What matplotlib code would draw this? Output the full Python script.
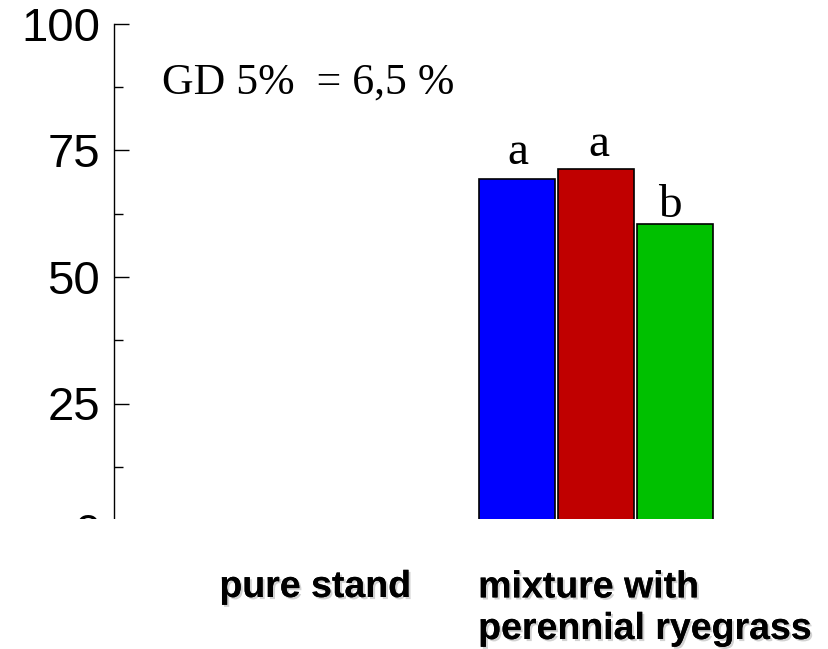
import numpy as np
import matplotlib
matplotlib.use("Agg")
import matplotlib.pyplot as plt
from matplotlib.patches import Rectangle
from matplotlib.transforms import blended_transform_factory
import matplotlib.patheffects as pe

# ---- data ----
categories = ["pure stand", "mixture with\nperennial ryegrass"]
series_blue = [np.nan, 69.3]
series_red = [np.nan, 71.3]
series_green = [np.nan, 60.5]
letters_blue = ["", "a"]
letters_red = ["", "a"]
letters_green = ["", "b"]
y_ticks = [0, 25, 50, 75, 100]
y_minor = [12.5, 37.5, 62.5, 87.5]
note = "GD 5%  = 6,5 %"

W, H = 829, 649
fig = plt.figure(figsize=(W / 100, H / 100), dpi=100)

def px(x0, y0, x1, y1):
    return [x0 / W, 1 - y1 / H, (x1 - x0) / W, (y1 - y0) / H]

ax = fig.add_axes(px(114, 24, 800, 530))
ax.set_xlim(-0.555, 1.658)
ax.set_ylim(0, 100)

x = np.arange(len(categories))
step = 0.2535
width = 0.245
colors = ["#0000ff", "#c00000", "#00c000"]
series = [series_blue, series_red, series_green]
letters = [letters_blue, letters_red, letters_green]
letter_off = [3.1, 2.7, 1.3]
letter_dx = [0.0, 0.01, -0.015]
for i, (vals, col, lets) in enumerate(zip(series, colors, letters)):
    xi = x + (i - 1) * step
    ax.bar(xi, vals, width=width, color=col, edgecolor="black", linewidth=1.2, zorder=2)
    for xx, v, t in zip(xi, vals, lets):
        if t and not np.isnan(v):
            ax.text(xx + letter_dx[i], v + letter_off[i], t, ha="center", va="baseline",
                    fontsize=34, family="Liberation Serif")

ax.text(162 / W, 86.2, note,
        transform=blended_transform_factory(fig.transFigure, ax.transData),
        fontsize=31.5, family="Liberation Serif", va="baseline", ha="left")

for s in ["top", "right", "bottom"]:
    ax.spines[s].set_visible(False)
ax.spines["left"].set_linewidth(1.0)
ax.set_xticks([])
ax.set_yticks(y_ticks)
ax.set_yticks(y_minor, minor=True)
ax.tick_params(axis="y", which="major", direction="in", length=10.8, width=1.0,
               labelsize=34, pad=10)
ax.tick_params(axis="y", which="minor", direction="in", length=6.5, width=1.0)
for lab in ax.get_yticklabels():
    lab.set_family("Liberation Sans")

# white band hiding the base of the chart
fig.add_artist(Rectangle((0, 0), 1, 1 - 519 / H, transform=fig.transFigure,
                         facecolor="white", edgecolor="none", zorder=5))

tr = blended_transform_factory(ax.transData, fig.transFigure)
shadow = [pe.withSimplePatchShadow(offset=(1.5, -1.5), shadow_rgbFace="gray", alpha=0.35),
          pe.Normal()]
fig.text(x[0] + 0.094, 1 - 597 / H, categories[0], transform=tr, ha="center", va="baseline",
         fontsize=27, fontweight="bold", family="Liberation Sans", zorder=6,
         path_effects=shadow)
fig.text(x[1] - 1.5 * step, 1 - 639 / H, categories[1], transform=tr, ha="left",
         va="baseline", fontsize=27, fontweight="bold", family="Liberation Sans", zorder=6,
         linespacing=1.2, multialignment="left", path_effects=shadow)

fig.savefig("out.png", dpi=100)
